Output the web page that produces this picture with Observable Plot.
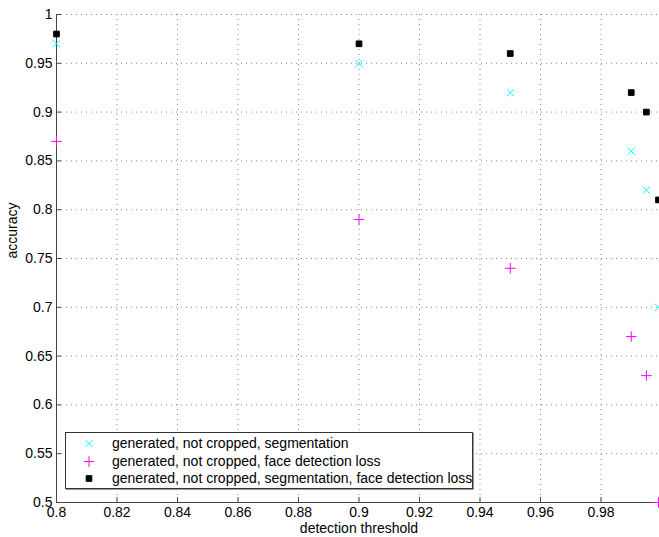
<!DOCTYPE html>
<html>
<head>
<meta charset="utf-8">
<script src="https://cdn.jsdelivr.net/npm/d3@7"></script>
<script src="https://cdn.jsdelivr.net/npm/@observablehq/plot@0.6"></script>
<style>
  html, body { margin: 0; padding: 0; background: #fff; overflow: hidden; }
  #wrap { position: relative; width: 659px; height: 537px; font-family: "Liberation Sans", Arial, sans-serif; }
  #legend { position: absolute; left: 65px; top: 432px; width: 408px; height: 57px; border: 1px solid #333; background: #fff; box-shadow: 1px 1px 0 #999; box-sizing: border-box; }
  .row { position: absolute; left: 0; height: 17px; font-size: 14px; line-height: 17px; color: #000; white-space: nowrap; }
  .row svg { position: absolute; left: 16px; top: 0; }
  .row span { position: absolute; left: 46px; top: 0; }
</style>
</head>
<body>
<div id="wrap"></div>
<script>
const thresholds = [0.8, 0.9, 0.95, 0.99, 0.995, 0.999];
const segAcc  = [0.97, 0.95, 0.92, 0.86, 0.82, 0.70];
const faceAcc = [0.87, 0.79, 0.74, 0.67, 0.63, 0.50];
const bothAcc = [0.98, 0.97, 0.96, 0.92, 0.90, 0.81];
const seriesNames = [
  "generated, not cropped, segmentation",
  "generated, not cropped, face detection loss",
  "generated, not cropped, segmentation, face detection loss"
];
const seriesColors = ["#00ffff", "#ff00ff", "#000000"];
const seriesSymbols = ["times", "plus", "square"];
const xTicks = [0.8, 0.82, 0.84, 0.86, 0.88, 0.9, 0.92, 0.94, 0.96, 0.98];
const yTicks = [0.5, 0.55, 0.6, 0.65, 0.7, 0.75, 0.8, 0.85, 0.9, 0.95, 1];
const xLabel = "detection threshold";
const yLabel = "accuracy";

const toRows = (vals) => thresholds.map((t, i) => ({x: t, y: vals[i]}));
const seg = toRows(segAcc), face = toRows(faceAcc), both = toRows(bothAcc);

const font = "Liberation Sans, Arial, sans-serif";
const chart = Plot.plot({
  width: 659,
  height: 537,
  marginLeft: 56,
  marginRight: -2,
  marginTop: 14,
  marginBottom: 35,
  style: {fontFamily: font, fontSize: "14px", color: "#000", background: "#fff"},
  x: {domain: [0.8, 1.0], label: null},
  y: {domain: [0.5, 1.0], label: null},
  marks: [
    Plot.gridX(xTicks, {stroke: "#888", strokeOpacity: 1, strokeDasharray: "1,4"}),
    Plot.gridY(yTicks, {stroke: "#888", strokeOpacity: 1, strokeDasharray: "1,4"}),
    Plot.ruleX([0.8], {stroke: "#444"}),
    Plot.ruleY([0.5], {stroke: "#444"}),
    Plot.axisX(xTicks, {tickSize: -5, text: null, label: null, stroke: "#444"}),
    Plot.axisX(xTicks, {tickSize: 0, tickPadding: 5, label: null, fill: "#000", fontSize: 14, tickFormat: d => String(d)}),
    Plot.axisY(yTicks, {tickSize: -5, text: null, label: null, stroke: "#444"}),
    Plot.axisY(yTicks, {tickSize: 0, tickPadding: 4, label: null, fill: "#000", fontSize: 14, tickFormat: d => String(d)}),
    Plot.dot(seg, {x: "x", y: "y", symbol: () => "times", stroke: seriesColors[0], r: 3.3, strokeWidth: 1}),
    Plot.dot(face, {x: "x", y: "y", symbol: () => "plus", stroke: seriesColors[1], r: 3.5, strokeWidth: 1}),
    Plot.dot(both, {x: "x", y: "y", symbol: () => "square", fill: seriesColors[2], stroke: seriesColors[2], r: 3.2, strokeWidth: 1}),
    Plot.text([xLabel], {frameAnchor: "bottom", text: d => d, dy: 30, fontSize: 14, fill: "#000"}),
    Plot.text([yLabel], {frameAnchor: "left", text: d => d, rotate: -90, dx: -44, fontSize: 14, fill: "#000"})
  ]
});
const wrap = document.getElementById("wrap");
wrap.appendChild(chart);

// legend overlay
const legend = document.createElement("div");
legend.id = "legend";
const symMap = {times: d3.symbolTimes, plus: d3.symbolPlus, square: d3.symbolSquare};
const sizes = {times: 34, plus: 40, square: 32};
seriesNames.forEach((name, i) => {
  const row = document.createElement("div");
  row.className = "row";
  row.style.top = (2 + i * 17.5) + "px";
  const s = d3.create("svg").attr("width", 14).attr("height", 17);
  const sym = seriesSymbols[i];
  s.append("path")
    .attr("transform", "translate(7,8.5)")
    .attr("d", d3.symbol(symMap[sym], sizes[sym])())
    .attr("fill", sym === "square" ? seriesColors[i] : "none")
    .attr("stroke", seriesColors[i])
    .attr("stroke-width", 1);
  row.appendChild(s.node());
  const t = document.createElement("span");
  t.textContent = name;
  row.appendChild(t);
  legend.appendChild(row);
});
wrap.appendChild(legend);
</script>
</body>
</html>
